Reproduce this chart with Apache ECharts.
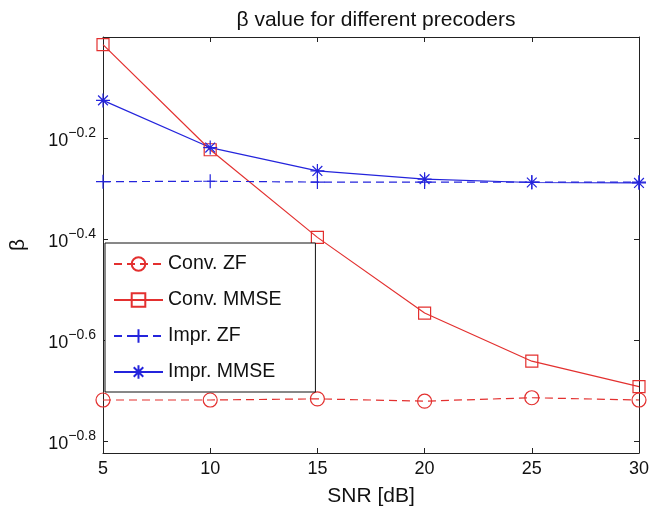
<!DOCTYPE html>
<html><head><meta charset="utf-8">
<script src="https://cdn.jsdelivr.net/npm/echarts@6/dist/echarts.min.js"></script>
<style>html,body{margin:0;padding:0;background:#fff}#c{width:654px;height:512px}</style>
</head><body><div id="c"></div>
<script>
const snr = [5, 10, 15, 20, 25, 30];
const convZF = [0.191, 0.191, 0.192, 0.190, 0.193, 0.191];
const convMMSE = [0.966, 0.598, 0.401, 0.284, 0.228, 0.203];
const imprZF = [0.517, 0.518, 0.516, 0.516, 0.516, 0.516];
const imprMMSE = [0.749, 0.604, 0.543, 0.523, 0.515, 0.514];
const yTickExponents = [-0.8, -0.6, -0.4, -0.2];
const seriesNames = ['Conv. ZF', 'Conv. MMSE', 'Impr. ZF', 'Impr. MMSE'];
const titleText = 'β value for different precoders';
const xName = 'SNR [dB]';
const yName = 'β';

const RED = '#e3302f', BLUE = '#2424dc', AX = '#222';
const FONT = 'Liberation Sans';
const yTickValues = yTickExponents.map(e => Math.pow(10, e));
const pair = arr => snr.map((x, i) => [x, arr[i]]);
const PLUS = 'path://M0,-1L0,1M-1,0L1,0';
const STAR = 'path://M0,-1L0,1M-1,0L1,0M-0.7,-0.7L0.7,0.7M-0.7,0.7L0.7,-0.7';

function yFmt(v) {
  const e = Math.round(Math.log10(v) * 10) / 10;
  return '{b|10}{s|−' + Math.abs(e).toFixed(1) + '}';
}

const chart = echarts.init(document.getElementById('c'), null, {renderer: 'canvas'});
const axisCommon = {
  axisLine: {show: true, lineStyle: {color: AX, width: 1}},
  splitLine: {show: false}
};
function mk(name, data, color, dashed, symbol, size) {
  return {
    name, type: 'line', data: pair(data), symbol, symbolSize: size,
    showAllSymbol: true,
    lineStyle: {color, width: 1.2, type: dashed ? [8, 5] : 'solid'},
    itemStyle: {color: 'rgba(255,255,255,0)', borderColor: color, borderWidth: 1.2},
    emphasis: {disabled: true}, animation: false, clip: false
  };
}
chart.setOption({
  animation: false,
  backgroundColor: '#fff',
  title: {
    text: titleText, left: 371, textAlign: 'center', top: 5,
    textStyle: {fontFamily: FONT, fontSize: 21, fontWeight: 'normal', color: '#111'}
  },
  grid: {left: 98, right: 15, top: 37, bottom: 59, containLabel: false},
  legend: {
    orient: 'vertical', left: 105, top: 243,
    data: seriesNames,
    itemWidth: 49, itemHeight: 17, itemGap: 16,
    padding: [11, 34, 10, 8],
    backgroundColor: '#fff', borderColor: '#111', borderWidth: 1,
    textStyle: {fontFamily: FONT, fontSize: 19.5, color: '#111', lineHeight: 20}
  },
  xAxis: [{
    type: 'value', min: 5, max: 30, interval: 5, position: 'bottom',
    name: xName, nameLocation: 'middle', nameGap: 33,
    nameTextStyle: {fontFamily: FONT, fontSize: 21, color: '#111'},
    axisTick: {inside: true, length: 5, lineStyle: {color: AX}},
    axisLabel: {fontFamily: FONT, fontSize: 18, color: '#111', margin: 7},
    ...axisCommon
  }, {
    type: 'value', min: 5, max: 30, interval: 5, position: 'top',
    axisTick: {inside: true, length: 5, lineStyle: {color: AX}},
    axisLabel: {show: false},
    ...axisCommon
  }],
  yAxis: [{
    type: 'log', logBase: 10, min: 0.15, max: 1, position: 'left',
    name: yName, nameLocation: 'middle', nameGap: 74, nameRotate: 90,
    nameTextStyle: {fontFamily: FONT, fontSize: 21, color: '#111'},
    axisTick: {inside: true, length: 5, customValues: yTickValues, lineStyle: {color: AX}},
    axisLabel: {
      customValues: yTickValues, formatter: yFmt, margin: 7,
      rich: {
        b: {fontFamily: FONT, fontSize: 18, color: '#111', lineHeight: 24, verticalAlign: 'bottom'},
        s: {fontFamily: FONT, fontSize: 14, color: '#111', lineHeight: 14, verticalAlign: 'top'}
      }
    },
    ...axisCommon
  }, {
    type: 'log', logBase: 10, min: 0.15, max: 1, position: 'right',
    axisTick: {inside: true, length: 5, customValues: yTickValues, lineStyle: {color: AX}},
    axisLabel: {show: false},
    ...axisCommon
  }],
  series: [
    mk(seriesNames[0], convZF, RED, true, 'circle', 14),
    mk(seriesNames[1], convMMSE, RED, false, 'rect', 12),
    mk(seriesNames[2], imprZF, BLUE, true, PLUS, 14),
    mk(seriesNames[3], imprMMSE, BLUE, false, STAR, 14)
  ]
});
</script></body></html>
